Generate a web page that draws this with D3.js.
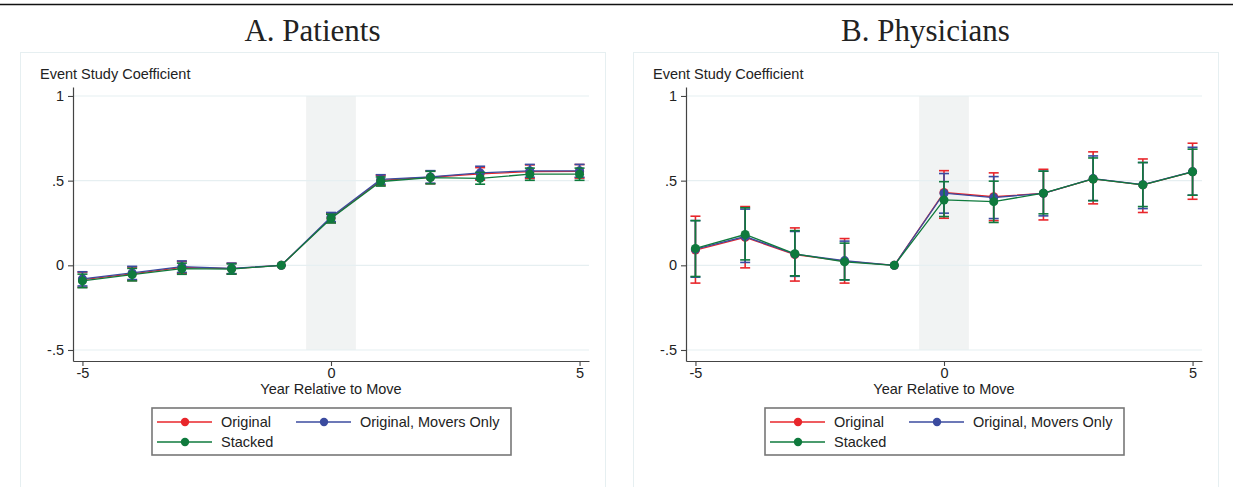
<!DOCTYPE html>
<html>
<head>
<meta charset="utf-8">
<script src="https://cdn.jsdelivr.net/npm/d3@7"></script>
<style>
  html, body { margin: 0; padding: 0; background: #fff; }
  svg { display: block; }
</style>
</head>
<body>
<svg id="chart" width="1233" height="487"></svg>
<script>
// Event-study years relative to the move
const years = [-5, -4, -3, -2, -1, 0, 1, 2, 3, 4, 5];
const yTicks = [-0.5, 0, 0.5, 1];
const yTickLabels = ["-.5", "0", ".5", "1"];
const xTicks = [-5, 0, 5];
const xTickLabels = ["-5", "0", "5"];
const seriesNames = ["Original", "Original, Movers Only", "Stacked"];
const seriesColors = ["#e8262b", "#3b4b9f", "#0f7a3d"];
const panelTitles = ["A. Patients", "B. Physicians"];

// Panel A: patients
const patOrigCoef  = [-0.085, -0.050, -0.012, -0.020, 0, 0.280, 0.502, 0.520, 0.540, 0.553, 0.555];
const patOrigLo    = [-0.130, -0.090, -0.047, -0.052, 0, 0.252, 0.472, 0.482, 0.503, 0.513, 0.515];
const patOrigHi    = [-0.040, -0.010, 0.023, 0.012, 0, 0.308, 0.532, 0.558, 0.577, 0.593, 0.595];
const patMovCoef   = [-0.080, -0.045, -0.008, -0.018, 0, 0.285, 0.507, 0.522, 0.546, 0.558, 0.558];
const patMovLo     = [-0.122, -0.084, -0.042, -0.049, 0, 0.258, 0.479, 0.485, 0.508, 0.520, 0.520];
const patMovHi     = [-0.038, -0.006, 0.026, 0.013, 0, 0.312, 0.535, 0.559, 0.585, 0.596, 0.596];
const patStkCoef   = [-0.092, -0.055, -0.020, -0.022, 0, 0.276, 0.495, 0.518, 0.514, 0.538, 0.538];
const patStkLo     = [-0.132, -0.092, -0.053, -0.052, 0, 0.250, 0.468, 0.481, 0.479, 0.502, 0.502];
const patStkHi     = [-0.052, -0.018, 0.013, 0.008, 0, 0.302, 0.522, 0.555, 0.549, 0.574, 0.574];

// Panel B: physicians
const phyOrigCoef  = [0.090, 0.165, 0.063, 0.025, 0, 0.430, 0.405, 0.425, 0.510, 0.475, 0.552];
const phyOrigLo    = [-0.105, -0.015, -0.093, -0.105, 0, 0.278, 0.264, 0.268, 0.363, 0.312, 0.390];
const phyOrigHi    = [0.290, 0.347, 0.221, 0.158, 0, 0.559, 0.546, 0.567, 0.670, 0.628, 0.721];
const phyMovCoef   = [0.095, 0.170, 0.066, 0.028, 0, 0.426, 0.400, 0.425, 0.512, 0.476, 0.553];
const phyMovLo     = [-0.070, 0.017, -0.065, -0.086, 0, 0.308, 0.276, 0.292, 0.382, 0.335, 0.414];
const phyMovHi     = [0.264, 0.332, 0.200, 0.143, 0, 0.542, 0.524, 0.556, 0.646, 0.607, 0.697];
const phyStkCoef   = [0.100, 0.182, 0.068, 0.020, 0, 0.386, 0.376, 0.426, 0.510, 0.475, 0.552];
const phyStkLo     = [-0.066, 0.032, -0.062, -0.086, 0, 0.288, 0.253, 0.304, 0.382, 0.347, 0.414];
const phyStkHi     = [0.264, 0.340, 0.205, 0.131, 0, 0.494, 0.497, 0.556, 0.634, 0.607, 0.686];

function buildSeries(coefs, los, his) {
  return coefs.map((c, s) => years.map((yr, i) => ({ yr, coef: c[i], lo: los[s][i], hi: his[s][i] })));
}
const panels = [
  buildSeries([patOrigCoef, patMovCoef, patStkCoef], [patOrigLo, patMovLo, patStkLo], [patOrigHi, patMovHi, patStkHi]),
  buildSeries([phyOrigCoef, phyMovCoef, phyStkCoef], [phyOrigLo, phyMovLo, phyStkLo], [phyOrigHi, phyMovHi, phyStkHi])
];

const svg = d3.select("#chart");
const sans = "'Liberation Sans', Arial, Helvetica, sans-serif";
const serif = "'Liberation Serif', 'Times New Roman', serif";
const textColor = "#222";

svg.append("rect").attr("width", 1233).attr("height", 487).attr("fill", "#fff");
svg.append("line").attr("x1", 0).attr("x2", 1233).attr("y1", 4.5).attr("y2", 4.5)
  .attr("stroke", "#111").attr("stroke-width", 1.6);

const panelW = 613;
const plotL = 73, plotR = 589, plotT = 87, plotB = 361;

function drawPanel(idx) {
  const g = svg.append("g").attr("transform", `translate(${idx * panelW},0)`);
  const data = panels[idx];

  // graph region frame (runs past the bottom edge of the page)
  g.append("rect").attr("x", 20.5).attr("y", 52.5).attr("width", 585).attr("height", 450)
    .attr("fill", "none").attr("stroke", "#e6eff1").attr("stroke-width", 1);

  g.append("text").attr("x", 312.5).attr("y", 41).attr("text-anchor", "middle")
    .attr("font-family", serif).attr("font-size", 31).attr("fill", textColor)
    .text(panelTitles[idx]);

  const x = d3.scaleLinear().domain([-5.19, 5.19]).range([plotL, plotR]);
  const y = d3.scaleLinear().domain([-0.565, 1.053]).range([plotB, plotT]);

  // shaded move year
  g.append("rect").attr("x", x(-0.5)).attr("width", x(0.5) - x(-0.5))
    .attr("y", y(1)).attr("height", y(-0.5) - y(1)).attr("fill", "#f1f3f3");

  // gridlines
  g.append("g").selectAll("line").data(yTicks).join("line")
    .attr("x1", plotL).attr("x2", plotR)
    .attr("y1", d => y(d)).attr("y2", d => y(d))
    .attr("stroke", "#e6eff1").attr("stroke-width", 1.2);

  // axes
  const yAxis = d3.axisLeft(y).tickValues(yTicks).tickFormat((d, i) => yTickLabels[i])
    .tickSize(5).tickPadding(4).tickSizeOuter(0);
  const ya = g.append("g").attr("transform", `translate(${plotL},0)`).call(yAxis);
  const xAxis = d3.axisBottom(x).tickValues(xTicks).tickFormat((d, i) => xTickLabels[i])
    .tickSize(5).tickPadding(2).tickSizeOuter(0);
  const xa = g.append("g").attr("transform", `translate(0,${plotB})`).call(xAxis);
  [ya, xa].forEach(a => {
    a.select(".domain").attr("stroke", "#444").attr("stroke-width", 1.2);
    a.selectAll(".tick line").attr("stroke", "#444").attr("stroke-width", 1.1);
    a.selectAll(".tick text").attr("font-family", sans).attr("font-size", 14.5).attr("fill", textColor);
  });

  g.append("text").attr("x", 40).attr("y", 79)
    .attr("font-family", sans).attr("font-size", 14.5).attr("fill", textColor)
    .text("Event Study Coefficient");
  g.append("text").attr("x", (plotL + plotR) / 2).attr("y", 394).attr("text-anchor", "middle")
    .attr("font-family", sans).attr("font-size", 14.5).attr("fill", textColor)
    .text("Year Relative to Move");

  // series: confidence caps, connecting line, markers
  const line = d3.line().x(d => x(d.yr)).y(d => y(d.coef));
  data.forEach((ser, s) => {
    const col = seriesColors[s];
    const sg = g.append("g");
    const withCI = ser.filter(d => d.lo !== d.hi);
    sg.selectAll("line.bar").data(withCI).join("line").attr("class", "bar")
      .attr("x1", d => x(d.yr)).attr("x2", d => x(d.yr))
      .attr("y1", d => y(d.lo)).attr("y2", d => y(d.hi))
      .attr("stroke", col).attr("stroke-width", 1.6);
    ["lo", "hi"].forEach(k => {
      sg.selectAll("line.cap" + k).data(withCI).join("line").attr("class", "cap" + k)
        .attr("x1", d => x(d.yr) - 5).attr("x2", d => x(d.yr) + 5)
        .attr("y1", d => y(d[k])).attr("y2", d => y(d[k]))
        .attr("stroke", col).attr("stroke-width", 1.6);
    });
    sg.append("path").datum(ser).attr("d", line)
      .attr("fill", "none").attr("stroke", col).attr("stroke-width", 1.3);
    sg.selectAll("circle").data(ser).join("circle")
      .attr("cx", d => x(d.yr)).attr("cy", d => y(d.coef)).attr("r", 4.5)
      .attr("fill", col);
  });

  // legend
  const lg = g.append("g");
  lg.append("rect").attr("x", 152).attr("y", 408).attr("width", 359).attr("height", 47)
    .attr("fill", "#fff").attr("stroke", "#777").attr("stroke-width", 1.6);
  const slots = [{ x: 157, y: 422 }, { x: 296, y: 422 }, { x: 157, y: 442 }];
  seriesNames.forEach((name, s) => {
    const p = slots[s];
    lg.append("line").attr("x1", p.x).attr("x2", p.x + 55).attr("y1", p.y).attr("y2", p.y)
      .attr("stroke", seriesColors[s]).attr("stroke-width", 1.3);
    lg.append("circle").attr("cx", p.x + 28).attr("cy", p.y).attr("r", 4.2).attr("fill", seriesColors[s]);
    lg.append("text").attr("x", p.x + 64).attr("y", p.y + 5)
      .attr("font-family", sans).attr("font-size", 14.5).attr("fill", textColor).text(name);
  });
}

drawPanel(0);
drawPanel(1);
</script>
</body>
</html>
